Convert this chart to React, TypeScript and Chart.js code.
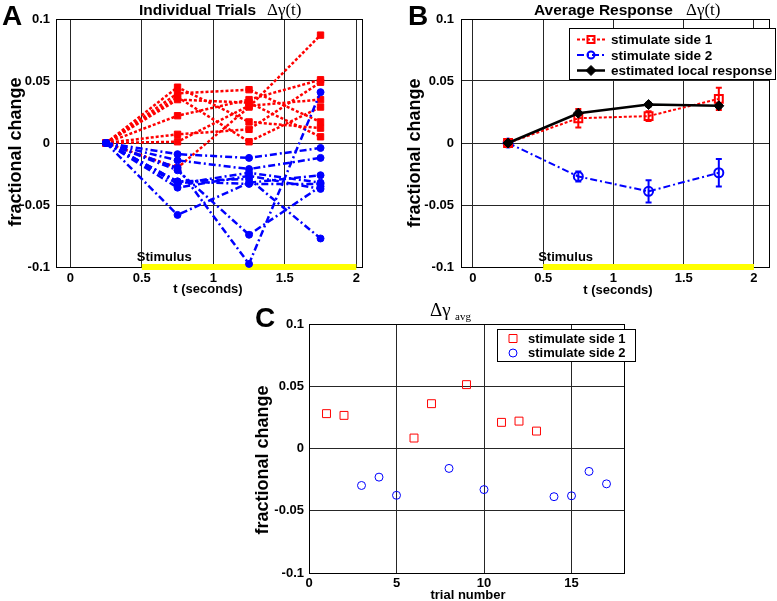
import React, { useEffect, useRef } from 'react';
import { Chart, registerables } from 'chart.js';

Chart.register(...registerables);

// ---------------- data ----------------
const TIMES = [0.25, 0.75, 1.25, 1.75];

// Panel A: individual trials, stimulate side 1 (red)
const SIDE1_TRIALS = [
  [0, -0.020, 0.029, 0.087],
  [0, 0.045, 0.017, 0.012],
  [0, 0.040, 0.043, 0.017],
  [0, 0.037, 0.001, 0.029],
  [0, 0.035, 0.0325, 0.005],
  [0, 0.022, 0.035, 0.051],
  [0, 0.007, 0.011, 0.049],
  [0, 0.001, 0.030, 0.035],
];
// Panel A: individual trials, stimulate side 2 (blue)
const SIDE2_TRIALS = [
  [0, -0.009, -0.012, -0.004],
  [0, -0.014, -0.021, -0.012],
  [0, -0.020, -0.0975, 0.041],
  [0, -0.022, -0.074, -0.035],
  [0, -0.031, -0.029, -0.077],
  [0, -0.058, -0.032, -0.026],
  [0, -0.033, -0.024, -0.032],
  [0, -0.036, -0.0265, -0.037],
  [0, -0.031, -0.033, -0.033],
];

// Panel B: average response
const AVG_SIDE1 = [0, 0.020, 0.0217, 0.0356];
const ERR_SIDE1 = [0.0015, 0.0075, 0.004, 0.009];
const AVG_SIDE2 = [0, -0.027, -0.039, -0.024];
const ERR_SIDE2 = [0.0015, 0.004, 0.009, 0.011];
const LOCAL_RESPONSE = [0, 0.024, 0.031, 0.030];
const ERR_LOCAL = [0.002, 0.0015, 0.0015, 0.0015];

// Panel C: per-trial average
const TRIALS_SIDE1 = [1, 2, 6, 7, 9, 11, 12, 13];
const DAVG_SIDE1 = [0.028, 0.0266, 0.0084, 0.036, 0.0513, 0.021, 0.022, 0.014];
const TRIALS_SIDE2 = [3, 4, 5, 8, 10, 14, 15, 16, 17];
const DAVG_SIDE2 = [-0.0297, -0.023, -0.0376, -0.016, -0.033, -0.0387, -0.038, -0.0184, -0.0284];

const STIMULUS = [0.5, 2];
const Y_TICKS = [-0.1, -0.05, 0, 0.05, 0.1];
const T_TICKS = [0, 0.5, 1, 1.5, 2];
const TRIAL_TICKS = [0, 5, 10, 15];
const LEGEND_B = ['stimulate side 1', 'stimulate side 2', 'estimated local response'];
const LEGEND_C = ['stimulate side 1', 'stimulate side 2'];

// ---------------- styles ----------------
const SANS = '"Liberation Sans", Arial, Helvetica, sans-serif';
const SERIF = '"Liberation Serif", "Times New Roman", serif';
const RED = '#ff0000';
const BLUE = '#0000ff';
const BLACK = '#000000';
const YELLOW = '#ffff00';
const GRID = '#262626';
const DOT = [3, 2];
const DASHDOT = [7, 3, 2, 3];

const fmt = (v: any) => {
  const n = Number(v);
  if (Math.abs(n) < 1e-9) return '0';
  return String(parseFloat(n.toFixed(3)));
};

function axes(o: any) {
  const tickFont = { family: SANS, size: 13, weight: 'bold' as const };
  return {
    x: {
      type: 'linear',
      position: 'bottom',
      min: o.xMin,
      max: o.xMax,
      afterBuildTicks: (s: any) => {
        s.ticks = o.xTicks.map((v: number) => ({ value: v }));
      },
      afterFit: (s: any) => {
        s.height = o.xAxisH;
      },
      ticks: { color: '#000', font: tickFont, padding: o.xPad, callback: fmt, autoSkip: false, maxRotation: 0, minRotation: 0 },
      grid: { color: GRID, lineWidth: 1, drawTicks: false },
      border: { display: true, color: '#000', width: 1 },
    },
    y: {
      type: 'linear',
      position: 'left',
      min: -0.1,
      max: 0.1,
      afterBuildTicks: (s: any) => {
        s.ticks = Y_TICKS.map((v) => ({ value: v }));
      },
      afterFit: (s: any) => {
        s.width = o.yAxisW;
      },
      ticks: { color: '#000', font: tickFont, padding: o.yPad, callback: fmt, autoSkip: false },
      grid: { color: GRID, lineWidth: 1, drawTicks: false },
      border: { display: true, color: '#000', width: 1 },
    },
  };
}

function lineDs(values: number[], xs: number[], color: string, dash: number[], style: string, radius: number, filled: boolean, width: number, pbw: number) {
  return {
    data: xs.map((x, i) => ({ x, y: values[i] })),
    borderColor: color,
    backgroundColor: color,
    borderWidth: width,
    borderDash: dash,
    pointStyle: style,
    pointRadius: radius,
    pointBorderColor: color,
    pointBackgroundColor: filled ? color : 'rgba(0,0,0,0)',
    pointBorderWidth: pbw,
    tension: 0,
    clip: false,
  };
}

function stimulusDs() {
  return {
    data: [
      { x: STIMULUS[0], y: -0.1 },
      { x: STIMULUS[1], y: -0.1 },
    ],
    borderColor: YELLOW,
    backgroundColor: YELLOW,
    borderWidth: 6,
    pointRadius: 0,
    clip: false,
  };
}

// ---------------- drawing helpers ----------------
function txt(ctx: CanvasRenderingContext2D, s: string, x: number, y: number, font: string, align: CanvasTextAlign = 'left', baseline: CanvasTextBaseline = 'alphabetic') {
  ctx.save();
  ctx.fillStyle = '#000';
  ctx.font = font;
  ctx.textAlign = align;
  ctx.textBaseline = baseline;
  ctx.fillText(s, x, y);
  ctx.restore();
}

function vtxt(ctx: CanvasRenderingContext2D, s: string, cx: number, cy: number, font: string) {
  ctx.save();
  ctx.translate(cx, cy);
  ctx.rotate(-Math.PI / 2);
  ctx.fillStyle = '#000';
  ctx.font = font;
  ctx.textAlign = 'center';
  ctx.textBaseline = 'middle';
  ctx.fillText(s, 0, 0);
  ctx.restore();
}

function drawBox(chart: any) {
  const { ctx, chartArea: a } = chart;
  ctx.save();
  ctx.strokeStyle = '#000';
  ctx.lineWidth = 1;
  ctx.setLineDash([]);
  ctx.strokeRect(Math.round(a.left) + 0.5, Math.round(a.top) + 0.5, Math.round(a.right - a.left), Math.round(a.bottom - a.top));
  ctx.restore();
}

function marker(ctx: CanvasRenderingContext2D, style: string, x: number, y: number, r: number, color: string, filled: boolean, lw: number) {
  ctx.save();
  ctx.setLineDash([]);
  ctx.strokeStyle = color;
  ctx.fillStyle = color;
  ctx.lineWidth = lw;
  ctx.beginPath();
  if (style === 'rect') {
    ctx.rect(x - r, y - r, 2 * r, 2 * r);
  } else if (style === 'circle') {
    ctx.arc(x, y, r, 0, Math.PI * 2);
  } else {
    ctx.moveTo(x, y - r);
    ctx.lineTo(x + r, y);
    ctx.lineTo(x, y + r);
    ctx.lineTo(x - r, y);
    ctx.closePath();
  }
  if (filled) ctx.fill();
  ctx.stroke();
  ctx.restore();
}

function errorBars(chart: any, values: number[], errs: number[], color: string) {
  const { ctx } = chart;
  const xs = chart.scales.x;
  const ys = chart.scales.y;
  ctx.save();
  ctx.setLineDash([]);
  ctx.strokeStyle = color;
  ctx.lineWidth = 2;
  TIMES.forEach((t, i) => {
    const x = xs.getPixelForValue(t);
    const y1 = ys.getPixelForValue(values[i] - errs[i]);
    const y2 = ys.getPixelForValue(values[i] + errs[i]);
    ctx.beginPath();
    ctx.moveTo(x, y1);
    ctx.lineTo(x, y2);
    ctx.moveTo(x - 3, y1);
    ctx.lineTo(x + 3, y1);
    ctx.moveTo(x - 3, y2);
    ctx.lineTo(x + 3, y2);
    ctx.stroke();
  });
  ctx.restore();
}

function stimulusLabel(chart: any) {
  const xs = chart.scales.x;
  const ys = chart.scales.y;
  txt(chart.ctx, 'Stimulus', xs.getPixelForValue(STIMULUS[0]) - 5, ys.getPixelForValue(-0.1) - 6, `bold 13px ${SANS}`);
}

const baseOptions = (padding: any, scales: any) => ({
  responsive: false,
  animation: false,
  devicePixelRatio: 1,
  events: [],
  layout: { padding },
  plugins: { legend: { display: false }, tooltip: { enabled: false }, title: { display: false } },
  scales,
});

// ---------------- panel configs ----------------
function configA(): any {
  const datasets: any[] = [
    ...SIDE2_TRIALS.map((tr) => lineDs(tr, TIMES, BLUE, DASHDOT, 'circle', 3.5, true, 2.5, 1)),
    ...SIDE1_TRIALS.map((tr) => lineDs(tr, TIMES, RED, DOT, 'rect', 4.5, true, 2.5, 1)),
    stimulusDs(),
  ];
  return {
    type: 'line',
    data: { datasets },
    options: baseOptions(
      { left: 0, top: 19, right: 18, bottom: 0 },
      axes({ xMin: -0.1, xMax: 2.04, xTicks: T_TICKS, xAxisH: 33, xPad: 4, yAxisW: 56, yPad: 6 })
    ),
    plugins: [
      {
        id: 'decorA',
        beforeDatasetsDraw: (c: any) => drawBox(c),
        afterDraw: (c: any) => {
          const ctx = c.ctx;
          txt(ctx, 'A', 2, 25, `bold 28px ${SANS}`);
          txt(ctx, 'Individual Trials', 139, 15, `bold 15.5px ${SANS}`);
          txt(ctx, 'Δγ(t)', 267, 15, `17px ${SERIF}`);
          vtxt(ctx, 'fractional change', 16.5, 152, `bold 18px ${SANS}`);
          txt(ctx, 't (seconds)', 208, 289, `bold 13px ${SANS}`, 'center', 'middle');
          stimulusLabel(c);
        },
      },
    ],
  };
}

function configB(): any {
  const datasets: any[] = [
    lineDs(LOCAL_RESPONSE, TIMES, BLACK, [], 'rectRot', 5, true, 2.5, 1),
    lineDs(AVG_SIDE1, TIMES, RED, DOT, 'rect', 5.6, false, 2, 2),
    lineDs(AVG_SIDE2, TIMES, BLUE, DASHDOT, 'circle', 4.5, false, 2, 2),
    stimulusDs(),
  ];
  return {
    type: 'line',
    data: { datasets },
    options: baseOptions(
      { left: 0, top: 19, right: 1, bottom: 0 },
      axes({ xMin: -0.085, xMax: 2.11, xTicks: T_TICKS, xAxisH: 33, xPad: 4, yAxisW: 81, yPad: 7 })
    ),
    plugins: [
      {
        id: 'decorB',
        beforeDatasetsDraw: (c: any) => {
          drawBox(c);
          errorBars(c, AVG_SIDE2, ERR_SIDE2, BLUE);
          errorBars(c, AVG_SIDE1, ERR_SIDE1, RED);
          errorBars(c, LOCAL_RESPONSE, ERR_LOCAL, BLACK);
        },
        afterDraw: (c: any) => {
          const ctx = c.ctx;
          txt(ctx, 'B', 28, 25, `bold 28px ${SANS}`);
          txt(ctx, 'Average Response', 154, 15, `bold 15.5px ${SANS}`);
          txt(ctx, 'Δγ(t)', 306, 15, `17px ${SERIF}`);
          vtxt(ctx, 'fractional change', 35, 153, `bold 18px ${SANS}`);
          txt(ctx, 't (seconds)', 238, 290, `bold 13px ${SANS}`, 'center', 'middle');
          stimulusLabel(c);
          // legend
          ctx.save();
          ctx.fillStyle = '#fff';
          ctx.fillRect(189.5, 28.5, 206, 51);
          ctx.strokeStyle = '#000';
          ctx.lineWidth = 1;
          ctx.strokeRect(189.5, 28.5, 206, 51);
          ctx.restore();
          const rows = [
            { y: 39.5, color: RED, dash: DOT, style: 'rect', r: 3.5, filled: false, lw: 2, w: 2 },
            { y: 55, color: BLUE, dash: DASHDOT, style: 'circle', r: 3.5, filled: false, lw: 2, w: 2 },
            { y: 70.5, color: BLACK, dash: [], style: 'rectRot', r: 5, filled: true, lw: 1, w: 2.5 },
          ];
          rows.forEach((row, i) => {
            ctx.save();
            ctx.strokeStyle = row.color;
            ctx.lineWidth = row.w;
            ctx.setLineDash(row.dash);
            ctx.beginPath();
            ctx.moveTo(197, row.y);
            ctx.lineTo(225, row.y);
            ctx.stroke();
            ctx.restore();
            marker(ctx, row.style, 211, row.y, row.r, row.color, row.filled, row.lw);
            txt(ctx, LEGEND_B[i], 231, row.y + 1, `bold 13.5px ${SANS}`, 'left', 'middle');
          });
        },
      },
    ],
  };
}

function configC(): any {
  const datasets: any[] = [
    {
      data: TRIALS_SIDE1.map((t, i) => ({ x: t, y: DAVG_SIDE1[i] })),
      showLine: false,
      pointStyle: 'rect',
      pointRadius: 5.6,
      pointBorderColor: RED,
      pointBackgroundColor: 'rgba(0,0,0,0)',
      pointBorderWidth: 1,
      borderColor: RED,
      clip: false,
    },
    {
      data: TRIALS_SIDE2.map((t, i) => ({ x: t, y: DAVG_SIDE2[i] })),
      showLine: false,
      pointStyle: 'circle',
      pointRadius: 4,
      pointBorderColor: BLUE,
      pointBackgroundColor: 'rgba(0,0,0,0)',
      pointBorderWidth: 1,
      borderColor: BLUE,
      clip: false,
    },
  ];
  return {
    type: 'line',
    data: { datasets },
    options: baseOptions(
      { left: 0, top: 29, right: 26, bottom: 0 },
      axes({ xMin: 0, xMax: 18, xTicks: TRIAL_TICKS, xAxisH: 28, xPad: 3, yAxisW: 109, yPad: 5 })
    ),
    plugins: [
      {
        id: 'decorC',
        beforeDatasetsDraw: (c: any) => drawBox(c),
        afterDraw: (c: any) => {
          const ctx = c.ctx;
          txt(ctx, 'C', 55, 32, `bold 28px ${SANS}`);
          txt(ctx, 'Δγ', 230, 21, `19px ${SERIF}`);
          txt(ctx, 'avg', 255, 25, `11px ${SERIF}`);
          vtxt(ctx, 'fractional change', 63.5, 165, `bold 18px ${SANS}`);
          txt(ctx, 'trial number', 268, 300, `bold 13px ${SANS}`, 'center', 'middle');
          ctx.save();
          ctx.fillStyle = '#fff';
          ctx.fillRect(297.5, 34.5, 138, 32);
          ctx.strokeStyle = '#000';
          ctx.lineWidth = 1;
          ctx.strokeRect(297.5, 34.5, 138, 32);
          ctx.restore();
          marker(ctx, 'rect', 313, 43.5, 4, RED, false, 1);
          marker(ctx, 'circle', 313, 58, 4, BLUE, false, 1);
          txt(ctx, LEGEND_C[0], 328, 44, `bold 13px ${SANS}`, 'left', 'middle');
          txt(ctx, LEGEND_C[1], 328, 58.5, `bold 13px ${SANS}`, 'left', 'middle');
        },
      },
    ],
  };
}

function Panel({ left, top, width, height, make }: any) {
  const ref = useRef<HTMLCanvasElement | null>(null);
  useEffect(() => {
    if (!ref.current) return;
    const chart = new Chart(ref.current, make());
    return () => chart.destroy();
  }, []);
  return (
    <canvas
      ref={ref}
      width={width}
      height={height}
      style={{ position: 'absolute', left, top, width, height, display: 'block' }}
    />
  );
}

export default function App() {
  return (
    <div style={{ position: 'fixed', left: 0, top: 0, width: 777, height: 601, background: '#fff', overflow: 'hidden' }}>
      <Panel left={0} top={0} width={380} height={300} make={configA} />
      <Panel left={380} top={0} width={397} height={300} make={configB} />
      <Panel left={200} top={295} width={450} height={306} make={configC} />
    </div>
  );
}
